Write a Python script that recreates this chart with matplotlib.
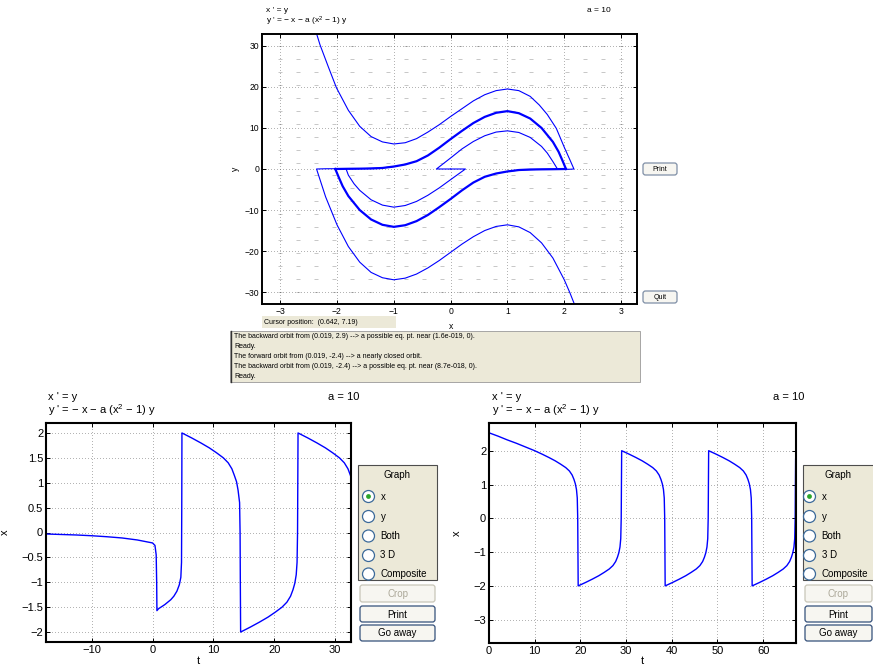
import numpy as np
import matplotlib.pyplot as plt
from matplotlib.patches import Rectangle, FancyBboxPatch, Circle
from matplotlib.ticker import FuncFormatter

plt.rcParams['font.family'] = ['Liberation Sans', 'DejaVu Sans']
plt.rcParams['mathtext.fontset'] = 'custom'
plt.rcParams['mathtext.rm'] = 'Liberation Sans'
plt.rcParams['mathtext.default'] = 'regular'

# ---- phase plane orbits (x, y) ----
upper_outer_x = [-2.40, -2.30, -2.15, -2.01, -1.80, -1.60, -1.40, -1.20, -1.00, -0.80, -0.60, -0.40, -0.20,
                 0.00, 0.20, 0.40, 0.60, 0.80, 1.00, 1.20, 1.40, 1.56, 1.70, 1.86, 2.00, 2.10, 2.17,
                 2.10, 1.80, 1.50, 1.20, 1.00]
upper_outer_y = [34.8, 30.3, 24.8, 19.8, 14.3, 10.4, 7.9, 6.6, 6.1, 6.4, 7.4, 9.0, 10.8,
                 12.8, 14.7, 16.6, 18.1, 19.1, 19.5, 19.1, 17.7, 15.6, 13.3, 9.9, 5.3, 2.2, 0.0,
                 -0.06, -0.08, -0.12, -0.27, -0.6]

cycle_up_x = [-2.03, -1.80, -1.60, -1.40, -1.20, -1.00, -0.80, -0.60, -0.40, -0.20, 0.00, 0.20, 0.40,
              0.60, 0.80, 1.00, 1.20, 1.40, 1.60, 1.80, 1.90, 1.97, 2.03]
cycle_up_y = [0.0, 0.05, 0.08, 0.12, 0.25, 0.6, 1.1, 1.9, 3.3, 5.2, 7.3, 9.3, 11.2,
              12.7, 13.7, 14.1, 13.6, 12.3, 10.0, 6.6, 4.2, 2.0, 0.0]
cycle_lo_x = [2.03, 1.80, 1.60, 1.40, 1.20, 1.00, 0.80, 0.60, 0.40, 0.20, 0.00, -0.20, -0.40,
              -0.60, -0.80, -1.00, -1.20, -1.40, -1.60, -1.80, -1.90, -1.97, -2.03]
cycle_lo_y = [0.0, -0.05, -0.08, -0.12, -0.25, -0.6, -1.1, -1.9, -3.3, -5.2, -7.3, -9.3, -11.2,
              -12.7, -13.7, -14.1, -13.6, -12.3, -10.0, -6.6, -4.2, -2.0, 0.0]

inner_up_x = [0.0, -0.25, 0.019, 0.20, 0.40, 0.60, 0.80, 1.00, 1.20, 1.40, 1.60, 1.70, 1.80, 1.88]
inner_up_y = [0.0, 0.0, 2.9, 4.9, 6.7, 8.1, 9.0, 9.3, 8.9, 7.7, 5.5, 3.9, 1.8, 0.0]
inner_lo_x = [0.0, 0.26, 0.019, -0.20, -0.40, -0.60, -0.80, -1.00, -1.20, -1.40, -1.60, -1.70, -1.80, -1.84]
inner_lo_y = [0.0, 0.0, -2.4, -4.6, -6.4, -7.9, -8.9, -9.3, -8.8, -7.5, -5.2, -3.6, -1.5, 0.0]

lower_outer_x = [2.20, 2.18, 2.10, 2.00, 1.80, 1.60, 1.40, 1.20, 1.00, 0.80, 0.60, 0.40, 0.20, 0.00,
                 -0.20, -0.40, -0.60, -0.80, -1.00, -1.20, -1.40, -1.60, -1.80, -2.00, -2.20, -2.36,
                 -2.20, -1.80, -1.50, -1.20, -1.00]
lower_outer_y = [-33.8, -33.0, -30.2, -27.0, -21.7, -18.0, -15.5, -14.1, -13.6, -14.0, -15.0, -16.5, -18.3, -20.3,
                 -22.3, -24.1, -25.6, -26.6, -27.0, -26.5, -25.2, -22.7, -18.9, -13.6, -6.8, 0.0,
                 0.06, 0.08, 0.12, 0.27, 0.6]

# ---- x(t) plots ----
t_left = [-17.5, -15, -12.5, -10, -7.5, -5, -2.5, 0, 0.4, 0.6, 0.68, 0.72,
          1.0, 1.5, 2.0, 2.5, 3.0, 3.5, 4.0, 4.4, 4.65, 4.76, 4.80, 4.83,
          6.43, 7.93, 9.33, 10.53, 11.63, 12.43, 13.03, 13.43, 13.8, 14.05, 14.3, 14.38, 14.42, 14.47,
          16.07, 17.57, 18.97, 20.17, 21.27, 22.07, 22.67, 23.07, 23.37, 23.6, 23.74, 23.82, 23.86, 23.9,
          25.5, 27.0, 28.4, 29.6, 30.7, 31.5, 32.1, 32.5, 32.8]
x_left = [-0.03, -0.04, -0.05, -0.065, -0.085, -0.11, -0.15, -0.21, -0.26, -0.45, -1.0, -1.57,
          -1.53, -1.49, -1.45, -1.40, -1.35, -1.28, -1.18, -1.05, -0.9, -0.6, 0.5, 2.0,
          1.9, 1.8, 1.7, 1.6, 1.5, 1.4, 1.28, 1.15, 1.02, 0.85, 0.6, 0.0, -1.0, -2.0,
          -1.9, -1.8, -1.7, -1.6, -1.5, -1.4, -1.28, -1.15, -1.02, -0.85, -0.6, 0.0, 1.0, 2.0,
          1.9, 1.8, 1.7, 1.6, 1.5, 1.4, 1.28, 1.15, 1.02]

t_right = [0, 2, 4, 6, 8, 10, 11.6, 13.1, 14.5, 15.7, 16.8, 17.6, 18.2, 18.6, 18.9, 19.15, 19.32, 19.42, 19.47, 19.52,
           21.12, 22.62, 24.02, 25.22, 26.32, 27.12, 27.72, 28.12, 28.42, 28.67, 28.84, 28.94, 28.99, 29.04,
           30.64, 32.14, 33.54, 34.74, 35.84, 36.64, 37.24, 37.64, 37.94, 38.19, 38.36, 38.46, 38.51, 38.56,
           40.16, 41.66, 43.06, 44.26, 45.36, 46.16, 46.76, 47.16, 47.46, 47.71, 47.88, 47.98, 48.03, 48.08,
           49.68, 51.18, 52.58, 53.78, 54.88, 55.68, 56.28, 56.68, 56.98, 57.23, 57.4, 57.5, 57.55, 57.6,
           59.2, 60.7, 62.1, 63.3, 64.4, 65.2, 65.8, 66.2, 66.5, 66.75, 66.92, 67.02, 67.07, 67.12]
x_right = [2.53, 2.43, 2.32, 2.22, 2.11, 2.0, 1.9, 1.8, 1.7, 1.6, 1.5, 1.4, 1.28, 1.15, 1.02, 0.85, 0.6, 0.0, -1.0, -2.0,
           -1.9, -1.8, -1.7, -1.6, -1.5, -1.4, -1.28, -1.15, -1.02, -0.85, -0.6, 0.0, 1.0, 2.0,
           1.9, 1.8, 1.7, 1.6, 1.5, 1.4, 1.28, 1.15, 1.02, 0.85, 0.6, 0.0, -1.0, -2.0,
           -1.9, -1.8, -1.7, -1.6, -1.5, -1.4, -1.28, -1.15, -1.02, -0.85, -0.6, 0.0, 1.0, 2.0,
           1.9, 1.8, 1.7, 1.6, 1.5, 1.4, 1.28, 1.15, 1.02, 0.85, 0.6, 0.0, -1.0, -2.0,
           -1.9, -1.8, -1.7, -1.6, -1.5, -1.4, -1.28, -1.15, -1.02, -0.85, -0.6, 0.0, 1.0, 1.75]

eq1 = "x ' = y"
eq2 = "y ' = \u2212 x \u2212 a (x$^2$ \u2212 1) y"
param = "a = 10"
messages = ["The backward orbit from (0.019, 2.9) --> a possible eq. pt. near (1.6e-019, 0).",
            "Ready.",
            "The forward orbit from (0.019, -2.4) --> a nearly closed orbit.",
            "The backward orbit from (0.019, -2.4) --> a possible eq. pt. near (8.7e-018, 0).",
            "Ready."]
radio_labels = ["x", "y", "Both", "3 D", "Composite"]

W, H = 873, 669
fig = plt.figure(figsize=(W / 100, H / 100), dpi=100)


def box(l, t, r, b):
    return [l / W, 1 - b / H, (r - l) / W, (b - t) / H]


def fmt(v, pos):
    return ('%g' % v).replace('-', '\u2212')


def style(ax, fs, lw):
    ax.grid(True, color='0.3', linestyle=(0, (0.6, 3.0)), linewidth=0.6)
    ax.tick_params(direction='in', top=True, right=True, labelsize=fs, length=3, width=0.7, pad=2)
    for s in ax.spines.values():
        s.set_linewidth(lw)
    ax.yaxis.set_major_formatter(FuncFormatter(fmt))
    ax.xaxis.set_major_formatter(FuncFormatter(fmt))


# top: phase plane
ax = fig.add_axes(box(262, 34, 637, 304))
fx, fy = np.meshgrid(np.linspace(-3, 3, 20), np.linspace(-30, 30, 20))
ax.plot(fx.ravel(), fy.ravel(), ls='none', marker='_', ms=3.5, mew=0.7, color='0.78', zorder=1)
blue = '#0000ff'
ax.plot(upper_outer_x, upper_outer_y, color=blue, lw=0.8)
ax.plot(lower_outer_x, lower_outer_y, color=blue, lw=0.8)
ax.plot(inner_up_x, inner_up_y, color=blue, lw=0.8)
ax.plot(inner_lo_x, inner_lo_y, color=blue, lw=0.8)
ax.plot(cycle_up_x, cycle_up_y, color=blue, lw=1.6)
ax.plot(cycle_lo_x, cycle_lo_y, color=blue, lw=1.6)
ax.set_xlim(-3.32, 3.28)
ax.set_ylim(-32.9, 32.9)
ax.set_xticks(range(-3, 4))
ax.set_yticks(range(-30, 31, 10))
style(ax, 6.2, 1.4)
ax.set_xlabel('x', fontsize=6.2)
ax.xaxis.set_label_coords(0.503, -0.067)
ax.set_ylabel('y', fontsize=6.2)
ax.yaxis.set_label_coords(-0.059, 0.5)

# bottom left
ax1 = fig.add_axes(box(46, 423, 351, 642))
ax1.plot(t_left, x_left, color=blue, lw=1.0)
ax1.set_xlim(-17.5, 32.6)
ax1.set_ylim(-2.2, 2.2)
ax1.set_xticks([-10, 0, 10, 20, 30])
ax1.set_yticks(np.arange(-2, 2.01, 0.5))
style(ax1, 8, 1.5)
ax1.set_xlabel('t', fontsize=8, va='center')
ax1.xaxis.set_label_coords(0.5, -0.088)
ax1.set_ylabel('x', fontsize=8)
ax1.yaxis.set_label_coords(-0.118, 0.5)

# bottom right
ax2 = fig.add_axes(box(489, 423, 796, 643))
ax2.plot(t_right, x_right, color=blue, lw=1.0)
ax2.set_xlim(0, 67.2)
ax2.set_ylim(-3.69, 2.82)
ax2.set_xticks(range(0, 61, 10))
ax2.set_yticks(range(-3, 3))
style(ax2, 8, 1.5)
ax2.set_xlabel('t', fontsize=8, va='center')
ax2.xaxis.set_label_coords(0.5, -0.083)
ax2.set_ylabel('x', fontsize=8)
ax2.yaxis.set_label_coords(-0.088, 0.5)

# overlay in pixel coordinates for titles and the gui bits
ov = fig.add_axes([0, 0, 1, 1])
ov.set_xlim(0, W)
ov.set_ylim(H, 0)
ov.axis('off')
ov.patch.set_alpha(0)

ov.text(266, 10, eq1, fontsize=6, va='center')
ov.text(266, 21, eq2, fontsize=6, va='center')
ov.text(587, 11, param, fontsize=6, va='center')
for x0, xa in [(48, 328), (492, 773)]:
    ov.text(x0, 397, eq1, fontsize=8, va='center')
    ov.text(x0, 410, eq2, fontsize=8, va='center')
    ov.text(xa, 397, param, fontsize=8, va='center')

beige = '#ece9d8'
ov.add_patch(Rectangle((262, 316), 134, 12, facecolor=beige, edgecolor='none'))
ov.text(264, 322, 'Cursor position:  (0.642, 7.19)', fontsize=5, va='center')
ov.add_patch(Rectangle((230, 331), 410, 51, facecolor=beige, edgecolor='0.6', lw=0.6))
ov.plot([230.5, 230.5], [331, 382], color='0.2', lw=1.0)
for i, m in enumerate(messages):
    ov.text(234, 336.5 + 10.1 * i, m, fontsize=5, va='center')


def button(l, t, r, b, label, fs, edge='#34507a', tc='black', face='#f7f6f1'):
    ov.add_patch(FancyBboxPatch((l, t), r - l, b - t, boxstyle='round,pad=0,rounding_size=2.5',
                                facecolor=face, edgecolor=edge, lw=0.9))
    ov.text((l + r) / 2, (t + b) / 2 + 0.5, label, fontsize=fs, color=tc, ha='center', va='center')


button(643, 163, 677, 175, 'Print', 5, edge='#7f8fa6')
button(643, 291, 677, 303, 'Quit', 5, edge='#7f8fa6')

radio_y = [496.5, 516.5, 536, 555.5, 574]
for pl, pr, cx, gx in [(358, 437, 368.5, 397), (803, 885, 809.5, 838)]:
    ov.add_patch(Rectangle((pl, 465), pr - pl, 115, facecolor=beige, edgecolor='0.3', lw=0.8))
    ov.text(gx, 475, 'Graph', fontsize=7, ha='center', va='center')
    for k, (ry, lab) in enumerate(zip(radio_y, radio_labels)):
        ov.add_patch(Circle((cx, ry), 6, facecolor='white', edgecolor='#3c6a9a', lw=0.9))
        if k == 0:
            ov.add_patch(Circle((cx, ry), 2.4, facecolor='#2aa52a', edgecolor='none'))
        ov.text(cx + 12, ry, lab, fontsize=7, va='center')
    bl, br = pl + 2, (435 if pr < 873 else 872)
    button(bl, 585, br, 602, 'Crop', 7, edge='#c8c6b8', tc='#aca899')
    button(bl, 606, br, 622, 'Print', 7)
    button(bl, 625, br, 641, 'Go away', 7)

fig.savefig('out.png', dpi=100)
